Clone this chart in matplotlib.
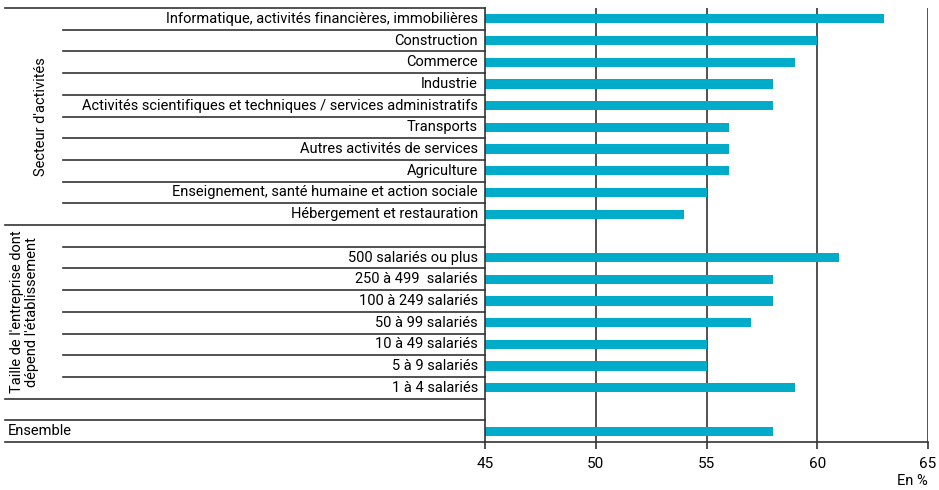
import matplotlib.pyplot as plt
from matplotlib import transforms

plt.rcParams['font.family'] = ['Roboto', 'DejaVu Sans']

secteurs = ["Informatique, activités financières, immobilières", "Construction",
            "Commerce", "Industrie",
            "Activités scientifiques et techniques / services administratifs",
            "Transports", "Autres activités de services", "Agriculture",
            "Enseignement, santé humaine et action sociale",
            "Hébergement et restauration"]
secteurs_val = [63, 60, 59, 58, 58, 56, 56, 56, 55, 54]

tailles = ["500 salariés ou plus", "250 à 499  salariés", "100 à 249 salariés",
           "50 à 99 salariés", "10 à 49 salariés", "5 à 9 salariés", "1 à 4 salariés"]
tailles_val = [61, 58, 58, 57, 55, 55, 59]

ensemble_label = "Ensemble"
ensemble_val = 58

xticks = [45, 50, 55, 60, 65]

# row positions: 10 sectors, blank, 7 sizes, blank, Ensemble
rows_sect = list(range(0, 10))
rows_taille = list(range(11, 18))
row_ens = 19

bar_color = '#00acc9'
line_color = '#333333'
fs = 10.5

fig = plt.figure(figsize=(9.39, 4.9), dpi=100)
ax = fig.add_axes([485 / 939, 48 / 490, 443 / 939, 434 / 490])

h = 0.42
ax.barh([r + 0.5 for r in rows_sect], [v - 45 for v in secteurs_val], left=45, height=h, color=bar_color)
ax.barh([r + 0.5 for r in rows_taille], [v - 45 for v in tailles_val], left=45, height=h, color=bar_color)
ax.barh([row_ens + 0.5], [ensemble_val - 45], left=45, height=h, color=bar_color)

ax.set_xlim(45, 65)
ax.set_ylim(20, 0)
ax.set_xticks(xticks)
ax.set_yticks([])
for x in xticks[1:]:
    ax.axvline(x, color=line_color, lw=1.2, zorder=0)

for s in ['top', 'right']:
    ax.spines[s].set_visible(False)
ax.spines['left'].set_color(line_color)
ax.spines['bottom'].set_color(line_color)
ax.spines['left'].set_linewidth(1.2)
ax.spines['bottom'].set_linewidth(1.2)
ax.tick_params(axis='x', length=5, width=1.2, color=line_color, labelsize=fs + 0.5, pad=6)

trans = transforms.blended_transform_factory(ax.transAxes, ax.transData)

# separator lines of the left table
long_lines = [0, 10, 18, 19, 20]
for y in range(0, 21):
    x0 = -1.083 if y in long_lines else -0.953
    ax.plot([x0, 0], [y, y], transform=trans, color=line_color, lw=1.2, clip_on=False)

for r, lab in zip(rows_sect, secteurs):
    ax.text(-0.016, r + 0.5, lab, transform=trans, ha='right', va='center', fontsize=fs)
for r, lab in zip(rows_taille, tailles):
    ax.text(-0.016, r + 0.5, lab, transform=trans, ha='right', va='center', fontsize=fs)
ax.text(-1.077, row_ens + 0.5, ensemble_label, transform=trans, ha='left', va='center', fontsize=fs)

ax.text(-1.003, 5, "Secteur d'activités", transform=trans, rotation=90,
        ha='center', va='center', fontsize=fs)
ax.text(-1.040, 14, "Taille de l'entreprise dont\ndépend l'établissement", transform=trans,
        rotation=90, ha='center', va='center', fontsize=fs, linespacing=1.05)

ax.text(1.0, -0.09, "En %", transform=ax.transAxes, ha='right', va='center', fontsize=fs)

fig.savefig('out.png', dpi=100)
